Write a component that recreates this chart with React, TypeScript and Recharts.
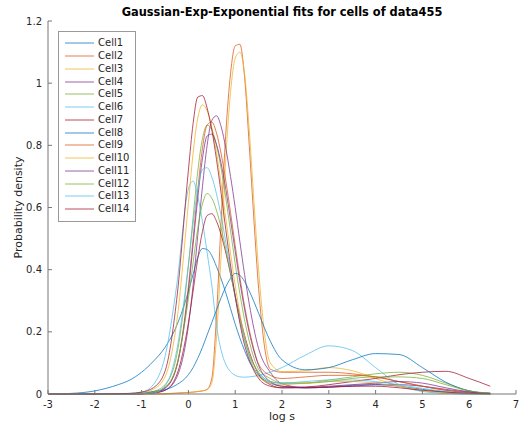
import { LineChart, Line, XAxis, YAxis } from 'recharts';

// log s sample points shared by every fitted curve
const xs = [-3, -2.5, -2, -1.5, -1.25, -1, -0.75, -0.5, -0.25,
  0, 0.1, 0.2, 0.3, 0.4, 0.5, 0.6, 0.7, 0.8, 0.9, 1, 1.1, 1.2, 1.3, 1.4, 1.5,
  1.75, 2, 2.5, 3, 3.5, 4, 4.5, 5, 5.5, 6, 6.45];

// probability density, one array per cell
const cell1 = [0, 0.002, 0.01, 0.03, 0.045, 0.07, 0.105, 0.15, 0.22,
  0.33, 0.385, 0.44, 0.468, 0.465, 0.445, 0.41, 0.37, 0.325, 0.275, 0.225, 0.18, 0.14, 0.105, 0.08, 0.06,
  0.035, 0.025, 0.02, 0.022, 0.028, 0.03, 0.025, 0.015, 0.007, 0.002, 0];
const cell2 = [0, 0, 0, 0, 0, 0, 0, 0.001, 0.003,
  0.005, 0.006, 0.008, 0.01, 0.015, 0.05, 0.25, 0.56, 0.84, 1.03, 1.12, 1.125, 1.02, 0.8, 0.56, 0.34,
  0.08, 0.07, 0.07, 0.07, 0.065, 0.055, 0.04, 0.025, 0.012, 0.004, 0.001];
const cell3 = [0, 0, 0, 0, 0, 0, 0, 0, 0.002,
  0.005, 0.006, 0.008, 0.01, 0.014, 0.035, 0.18, 0.45, 0.76, 0.97, 1.08, 1.1, 1.03, 0.85, 0.62, 0.4,
  0.1, 0.072, 0.075, 0.085, 0.075, 0.05, 0.025, 0.01, 0.003, 0.001, 0];
const cell4 = [0, 0, 0, 0, 0, 0.001, 0.004, 0.012, 0.053,
  0.22, 0.35, 0.51, 0.667, 0.8, 0.88, 0.895, 0.86, 0.79, 0.7, 0.6, 0.49, 0.385, 0.29, 0.21, 0.146,
  0.07, 0.033, 0.02, 0.022, 0.025, 0.03, 0.03, 0.025, 0.015, 0.006, 0.002];
const cell5 = [0, 0, 0, 0, 0, 0.001, 0.008, 0.03, 0.124,
  0.413, 0.568, 0.716, 0.821, 0.865, 0.85, 0.8, 0.725, 0.63, 0.525, 0.42, 0.323, 0.239, 0.17, 0.116, 0.08,
  0.05, 0.035, 0.035, 0.045, 0.055, 0.065, 0.07, 0.06, 0.035, 0.01, 0.002];
const cell6 = [0, 0, 0, 0, 0.002, 0.006, 0.03, 0.12, 0.35,
  0.66, 0.685, 0.635, 0.555, 0.455, 0.35, 0.22, 0.14, 0.095, 0.072, 0.06, 0.055, 0.054, 0.055, 0.057, 0.06,
  0.07, 0.085, 0.125, 0.155, 0.14, 0.085, 0.03, 0.008, 0.002, 0, 0];
const cell7 = [0, 0, 0, 0, 0, 0.001, 0.003, 0.012, 0.061,
  0.229, 0.331, 0.435, 0.523, 0.574, 0.58, 0.556, 0.512, 0.454, 0.387, 0.317, 0.249, 0.189, 0.137, 0.095, 0.064,
  0.03, 0.02, 0.022, 0.03, 0.04, 0.05, 0.062, 0.07, 0.073, 0.05, 0.025];
const cell8 = [0, 0, 0, 0, 0.001, 0.003, 0.008, 0.014, 0.03,
  0.062, 0.085, 0.115, 0.15, 0.19, 0.23, 0.27, 0.31, 0.345, 0.372, 0.388, 0.382, 0.362, 0.332, 0.297, 0.26,
  0.17, 0.11, 0.078, 0.085, 0.11, 0.13, 0.127, 0.085, 0.038, 0.01, 0.002];
const cell9 = [0, 0, 0, 0, 0, 0.001, 0.005, 0.02, 0.09,
  0.346, 0.5, 0.656, 0.79, 0.865, 0.875, 0.84, 0.772, 0.685, 0.584, 0.478, 0.376, 0.284, 0.207, 0.144, 0.096,
  0.06, 0.05, 0.055, 0.06, 0.06, 0.055, 0.04, 0.025, 0.012, 0.004, 0.001];
const cell10 = [0, 0, 0, 0, 0.001, 0.004, 0.015, 0.055, 0.23,
  0.614, 0.774, 0.888, 0.93, 0.911, 0.858, 0.777, 0.675, 0.564, 0.453, 0.349, 0.259, 0.184, 0.126, 0.083, 0.055,
  0.035, 0.03, 0.035, 0.04, 0.04, 0.035, 0.025, 0.012, 0.005, 0.001, 0];
const cell11 = [0, 0, 0, 0, 0, 0.001, 0.004, 0.018, 0.088,
  0.332, 0.48, 0.63, 0.757, 0.83, 0.836, 0.803, 0.741, 0.658, 0.56, 0.459, 0.361, 0.273, 0.198, 0.138, 0.092,
  0.04, 0.025, 0.022, 0.025, 0.03, 0.035, 0.04, 0.035, 0.02, 0.007, 0.002];
const cell12 = [0, 0, 0, 0, 0, 0.001, 0.006, 0.022, 0.092,
  0.307, 0.422, 0.532, 0.611, 0.645, 0.63, 0.591, 0.534, 0.465, 0.388, 0.312, 0.24, 0.178, 0.127, 0.095, 0.07,
  0.04, 0.035, 0.035, 0.04, 0.05, 0.055, 0.055, 0.05, 0.03, 0.01, 0.003];
const cell13 = [0, 0, 0, 0, 0, 0.001, 0.003, 0.026, 0.14,
  0.416, 0.548, 0.658, 0.722, 0.728, 0.698, 0.644, 0.572, 0.487, 0.399, 0.314, 0.237, 0.172, 0.12, 0.08, 0.065,
  0.04, 0.035, 0.04, 0.045, 0.045, 0.04, 0.03, 0.018, 0.008, 0.002, 0];
const cell14 = [0, 0, 0, 0.001, 0.002, 0.006, 0.02, 0.073, 0.304,
  0.72, 0.87, 0.955, 0.96, 0.92, 0.85, 0.755, 0.645, 0.528, 0.415, 0.314, 0.228, 0.158, 0.11, 0.075, 0.05,
  0.025, 0.02, 0.02, 0.022, 0.025, 0.025, 0.02, 0.012, 0.006, 0.002, 0.001];

const cellNames = ['Cell1', 'Cell2', 'Cell3', 'Cell4', 'Cell5', 'Cell6', 'Cell7',
  'Cell8', 'Cell9', 'Cell10', 'Cell11', 'Cell12', 'Cell13', 'Cell14'];
const cellValues = [cell1, cell2, cell3, cell4, cell5, cell6, cell7,
  cell8, cell9, cell10, cell11, cell12, cell13, cell14];

// MATLAB default line order, repeats every 7 lines
const lineColors = ['#0072BD', '#D95319', '#EDB120', '#7E2F8E', '#77AC30', '#4DBEEE', '#A2142F'];

const xTicks = [-3, -2, -1, 0, 1, 2, 3, 4, 5, 6, 7];
const yTicks = [0, 0.2, 0.4, 0.6, 0.8, 1, 1.2];

const FONT = '"DejaVu Sans", sans-serif';
const TEXT = '#262626';
const AXIS = '#777';

const series = cellValues.map((vals, i) => ({
  name: cellNames[i],
  color: lineColors[i % lineColors.length],
  points: xs.map((x, j) => ({ x, y: vals[j] })),
}));

function LegendBox() {
  return (
    <div
      style={{
        position: 'absolute',
        left: 58,
        top: 31,
        width: 78,
        height: 191,
        border: '1px solid #999',
        background: '#fff',
        boxSizing: 'border-box',
        paddingTop: 5,
        fontFamily: FONT,
        fontSize: 10,
        color: TEXT,
        textAlign: 'left',
      }}
    >
      {series.map((s) => (
        <div key={s.name} style={{ height: 12.75, display: 'flex', alignItems: 'center', whiteSpace: 'nowrap' }}>
          <svg width={29} height={4} style={{ marginLeft: 6, flexShrink: 0 }}>
            <line x1={0} y1={2} x2={29} y2={2} stroke={s.color} strokeOpacity={0.75} strokeWidth={1} />
          </svg>
          <span style={{ marginLeft: 4, lineHeight: '12px', flexShrink: 0 }}>{s.name}</span>
        </div>
      ))}
    </div>
  );
}

export default function App() {
  return (
    <div style={{ position: 'absolute', left: 0, top: 0, width: 528, height: 429, background: '#fff' }}>
      <div
        style={{
          position: 'absolute',
          left: 48,
          width: 468,
          top: 5,
          textAlign: 'center',
          fontFamily: FONT,
          fontWeight: 'bold',
          fontSize: 11.4,
          lineHeight: '14px',
          color: '#000',
        }}
      >
        Gaussian-Exp-Exponential fits for cells of data455
      </div>
      <LineChart
        width={528}
        height={429}
        margin={{ top: 21, right: 12, left: 0, bottom: 0 }}
        style={{ fontFamily: FONT }}
      >
        <XAxis
          type="number"
          dataKey="x"
          domain={[-3, 7]}
          ticks={xTicks}
          height={35}
          tickSize={-4}
          tickMargin={11}
          stroke={AXIS}
          tick={{ fill: TEXT, fontSize: 10, fontFamily: FONT }}
          label={{ value: 'log s', position: 'insideBottom', offset: 9, fill: TEXT, fontSize: 11, fontFamily: FONT }}
        />
        <YAxis
          type="number"
          dataKey="y"
          domain={[0, 1.2]}
          ticks={yTicks}
          width={48}
          tickSize={-4}
          tickMargin={10}
          stroke={AXIS}
          tick={{ fill: TEXT, fontSize: 10, fontFamily: FONT }}
          label={{
            value: 'Probability density',
            angle: -90,
            position: 'insideLeft',
            offset: 18,
            fill: TEXT,
            fontSize: 11,
            fontFamily: FONT,
            style: { textAnchor: 'middle' },
          }}
        />
        {series.map((s) => (
          <Line
            key={s.name}
            data={s.points}
            dataKey="y"
            name={s.name}
            type="monotone"
            stroke={s.color}
            strokeOpacity={0.75}
            strokeWidth={1}
            dot={false}
            activeDot={false}
            isAnimationActive={false}
          />
        ))}
      </LineChart>
      <LegendBox />
    </div>
  );
}
